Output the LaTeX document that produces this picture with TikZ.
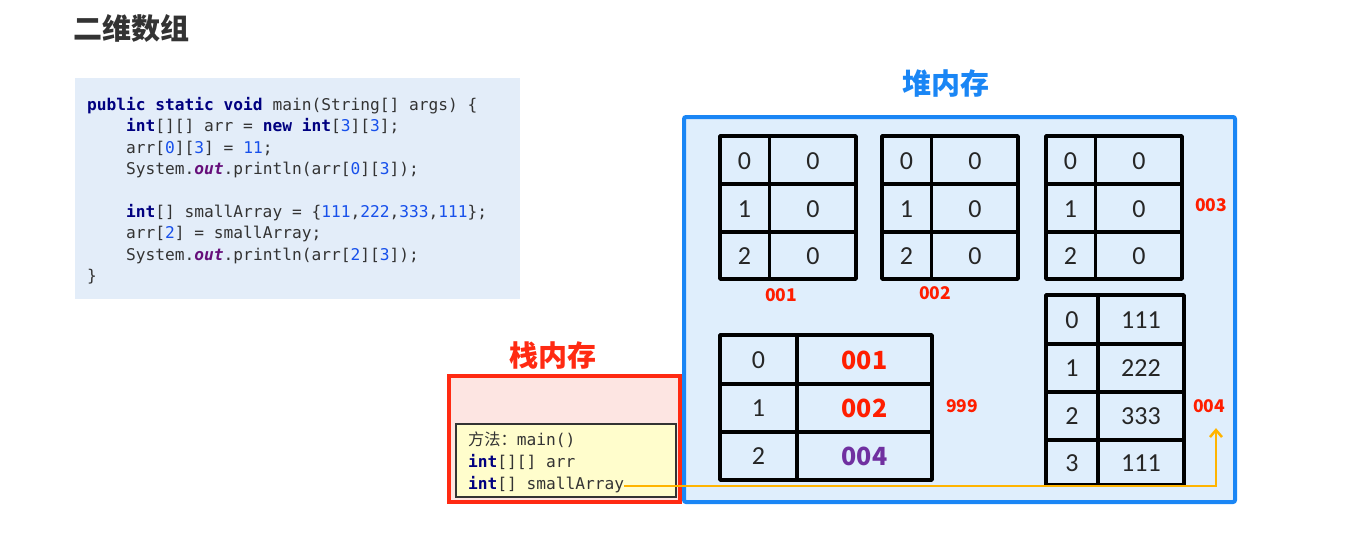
\documentclass[tikz,border=0pt]{standalone}
\usepackage{fontspec}
\setmainfont{Carlito}
\setmonofont{DejaVu Sans Mono}
\newfontfamily\cjk{Noto Sans CJK SC}
\usetikzlibrary{arrows.meta}

\definecolor{codebg}{HTML}{E3EDF9}
\definecolor{heapbg}{HTML}{DFEEFC}
\definecolor{heapline}{HTML}{1A86F5}
\definecolor{stackbg}{HTML}{FDE5E2}
\definecolor{stackline}{HTML}{FF2A12}
\definecolor{frameyel}{HTML}{FFFDCC}
\definecolor{addrred}{HTML}{FF1E00}
\definecolor{addrpur}{HTML}{7030A0}
\definecolor{kwblue}{HTML}{000080}
\definecolor{numblue}{HTML}{1750EB}
\definecolor{outpur}{HTML}{660E7A}
\definecolor{ptrorange}{HTML}{FFB400}
\definecolor{txtgray}{HTML}{333333}

\newcommand{\kw}[1]{\textbf{\color{kwblue}#1}}
\newcommand{\nm}[1]{{\color{numblue}#1}}
\newcommand{\fld}[1]{\textbf{\textit{\color{outpur}#1}}}

\begin{document}
\begin{tikzpicture}[x=1pt,y=-1pt,
        tbl/.style={line width=3.5pt,line join=round},
        cell/.style={font=\fontsize{26}{26}\selectfont,text=black!85,inner sep=0pt},
        val/.style={font=\cjk\bfseries\fontsize{25}{25}\selectfont,inner sep=0pt},
        addr/.style={font=\cjk\bfseries\fontsize{17.5}{17.5}\selectfont,text=addrred},
        head/.style={font=\cjk\bfseries\fontsize{29}{29}\selectfont},
        code/.style={font=\ttfamily\fontsize{16.2}{21.4}\selectfont,text=txtgray,align=left,inner sep=0pt,anchor=north west},
        ptr/.style={draw=ptrorange,line width=2.5pt,-{Straight Barb[length=7pt,width=12pt]}}] %Memoria de pila y montón del arreglo bidimensional
            \useasboundingbox (0,0) rectangle (1353,539);

            \node[head,text=txtgray] (title) at (131,28) {二维数组};

            \fill[codebg] (75,78) rectangle (520,299);
            \node[code] (src) at (87,97) {\kw{public static void} main(String[] args) \{\\
\ \ \ \ \kw{int}[][] arr = \kw{new} \kw{int}[\nm{3}][\nm{3}];\\
\ \ \ \ arr[\nm{0}][\nm{3}] = \nm{11};\\
\ \ \ \ System.\fld{out}.println(arr[\nm{0}][\nm{3}]);\\
\mbox{}\\
\ \ \ \ \kw{int}[] smallArray = \{\nm{111},\nm{222},\nm{333},\nm{111}\};\\
\ \ \ \ arr[\nm{2}] = smallArray;\\
\ \ \ \ System.\fld{out}.println(arr[\nm{2}][\nm{3}]);\\
\}};

            \node[head,text=heapline] (heaplbl) at (946,83) {堆内存};
            \filldraw[fill=heapbg,draw=heapline,line width=4pt,rounded corners=2pt] (684,117) rectangle (1235,502);

            \node[head,text=stackline] (stacklbl) at (553,355) {栈内存};
            \filldraw[fill=stackbg,draw=stackline,line width=4pt] (449,376) rectangle (680,502);
            \filldraw[fill=frameyel,draw=txtgray,line width=1.8pt] (456,424) rectangle (676,497);
            \node[code,anchor=base west] (mth) at (468,445) {{\cjk 方法：}main()};
            \node[code,anchor=base west] (varr) at (468,467) {\kw{int}[][] arr};
            \node[code,anchor=base west] (vsa) at (468,489) {\kw{int}[] smallArray};

            \foreach \x/\n in {720/a,882/b,1046/c}{
                \draw[tbl] (\x,136) rectangle ++(136,143);
                \draw[tbl] (\x+49.5,136) -- ++(0,143) (\x,184) -- ++(136,0) (\x,232) -- ++(136,0);
                \foreach \r in {0,1,2}{
                    \node[cell] (\n\r) at (\x+24.5,161+47.7*\r) {\r};
                    \node[cell] (v\n\r) at (\x+93,161+47.7*\r) {0};
                }
            }

            \draw[tbl] (720,335) rectangle (932,480);
            \draw[tbl] (797,335) -- (797,480) (720,384) -- (932,384) (720,432) -- (932,432);
            \foreach \r in {0,1,2}
                \node[cell] (d\r) at (758.5,360+48.2*\r) {\r};
            \node[val,text=addrred] (dv0) at (864.5,360) {001};
            \node[val,text=addrred] (dv1) at (864.5,408.5) {002};
            \node[val,text=addrpur] (dv2) at (864.5,456.5) {004};

            \draw[tbl] (1046,295) rectangle (1184,485);
            \draw[tbl] (1098,295) -- (1098,485) (1046,344) -- (1184,344) (1046,392) -- (1184,392) (1046,440) -- (1184,440);
            \foreach \r/\v in {0/111,1/222,2/333,3/111}{
                \node[cell] (e\r) at (1072,320.5+47.7*\r) {\r};
                \node[cell] (ev\r) at (1141,320.5+47.7*\r) {\v};
            }

            \node[addr] (l001) at (781,295) {001};
            \node[addr] (l002) at (935,293) {002};
            \node[addr] (l003) at (1211,205) {003};
            \node[addr] (l999) at (962,406) {999};
            \node[addr] (l004) at (1209,406) {004};

            \draw[ptr] ([yshift=-2pt]vsa.east) -| ([xshift=7pt,yshift=-12pt]l004.south);
        \end{tikzpicture}
\end{document}
